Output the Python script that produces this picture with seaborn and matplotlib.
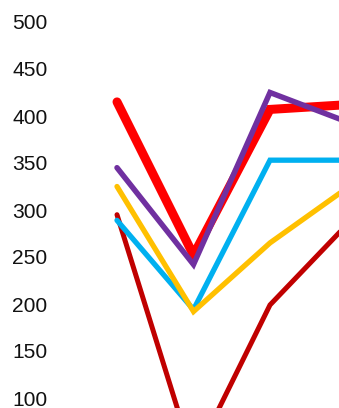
import matplotlib
matplotlib.use("Agg")
import matplotlib.pyplot as plt
import seaborn as sns
import pandas as pd

# Data
x_pos = [0, 1, 2, 3]
dark_red = [295, 34, 199, 284]
light_blue = [289, 194, 353, 353]
yellow = [325, 192, 265, 323]
red = [415, 252, 407, 412]
purple = [345, 242, 425, 394]
y_ticks = [100, 150, 200, 250, 300, 350, 400, 450, 500]

series_names = ["dark_red", "light_blue", "yellow", "red", "purple"]
series_vals = [dark_red, light_blue, yellow, red, purple]
colors = {"dark_red": "#C00000", "light_blue": "#00B0F0", "yellow": "#FFC000",
          "red": "#FF0000", "purple": "#7030A0"}
widths = {"dark_red": 5, "light_blue": 5.3, "yellow": 5.3, "red": 9, "purple": 5.5}

rows = []
for name, vals in zip(series_names, series_vals):
    for xv, yv in zip(x_pos, vals):
        rows.append({"x": xv, "y": yv, "s": name})
df = pd.DataFrame(rows)

sns.set_style("white")
plt.rcParams["font.family"] = ["Liberation Sans", "DejaVu Sans"]

fig = plt.figure(figsize=(339 / 72, 408 / 72), dpi=72)
ax = fig.add_axes([0, 0, 1, 1])

for name in series_names:
    sub = df[df["s"] == name]
    sns.lineplot(data=sub, x="x", y="y", ax=ax, color=colors[name],
                 linewidth=widths[name], sort=False, estimator=None,
                 solid_capstyle="round", solid_joinstyle="miter")

ax.set_xlim(-117 / 76.5, (339 - 117) / 76.5)
ax.set_ylim(500 - (408 - 22) / 0.94, 500 + 22 / 0.94)
ax.set_yticks(y_ticks)
ax.set_yticklabels([str(v) for v in y_ticks])
ax.tick_params(axis="y", length=0, pad=-47.5, labelsize=21, labelcolor="#111111")
for lab in ax.get_yticklabels():
    lab.set_horizontalalignment("right")
ax.set_xticks([])
ax.set_xlabel("")
ax.set_ylabel("")
for sp in ax.spines.values():
    sp.set_visible(False)
ax.grid(False)
if ax.get_legend():
    ax.get_legend().remove()

fig.savefig("out.png", dpi=72)
